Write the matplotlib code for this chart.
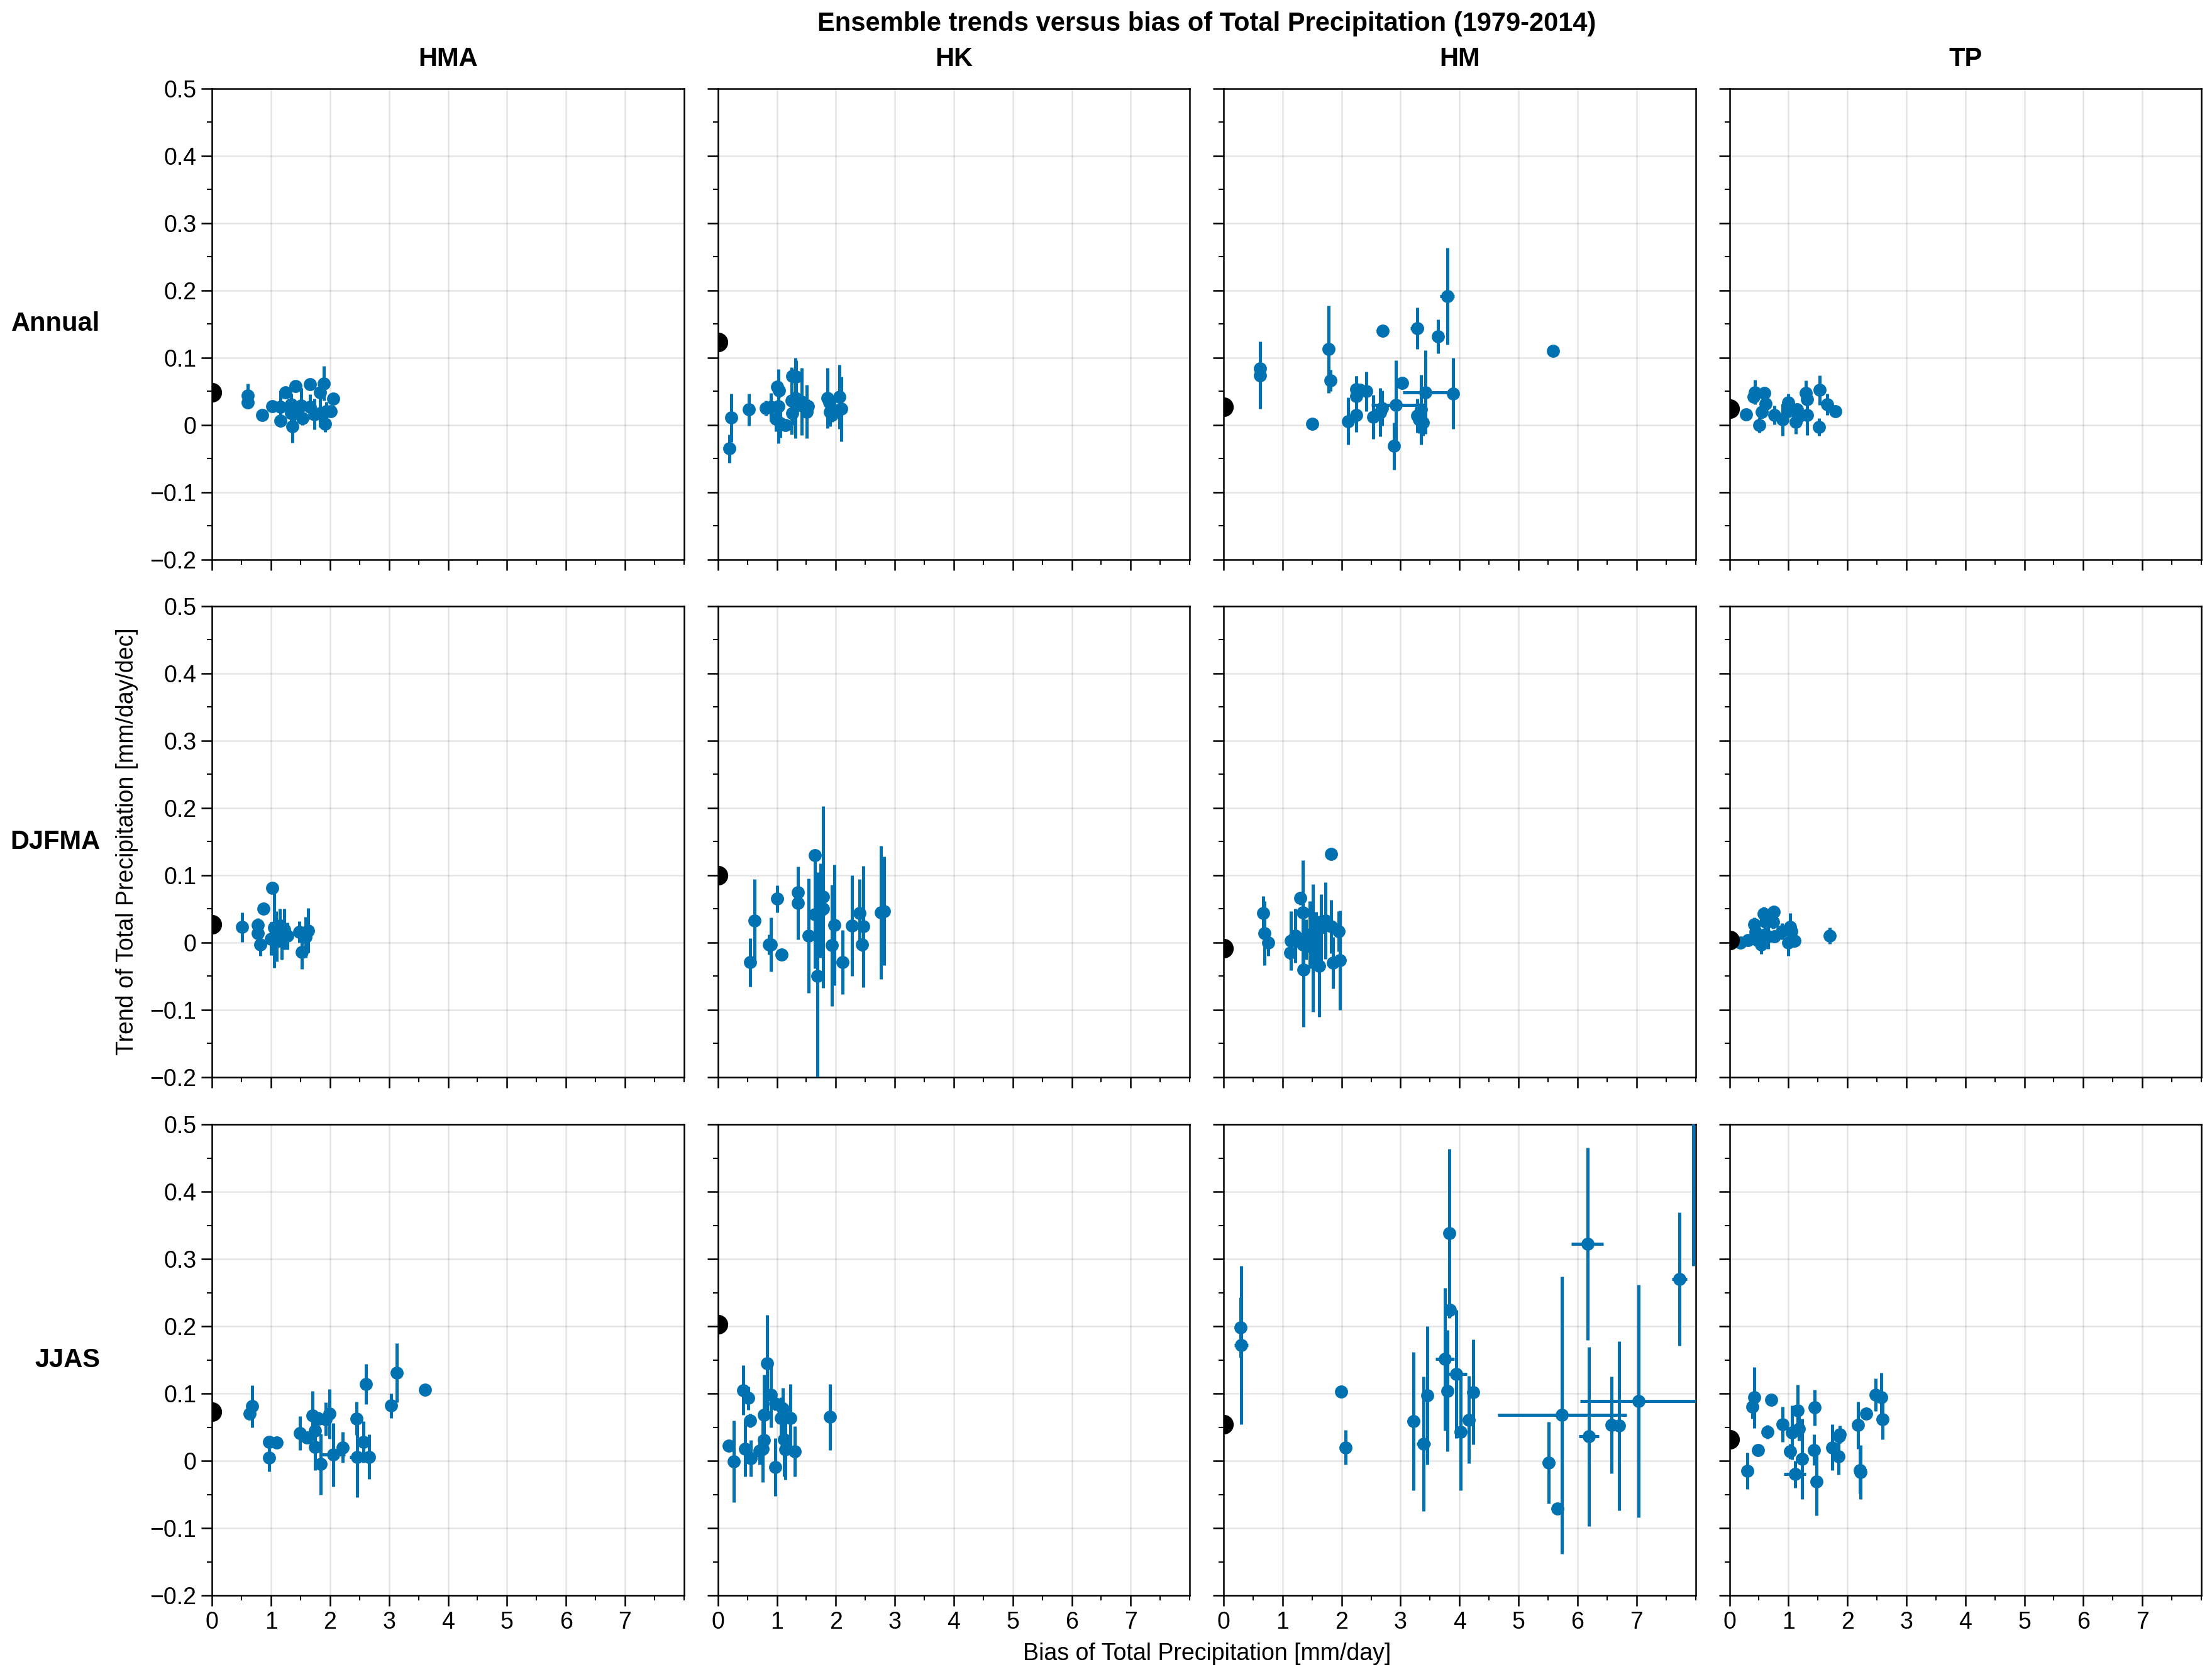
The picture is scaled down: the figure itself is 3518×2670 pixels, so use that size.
import matplotlib
matplotlib.use("Agg")
import matplotlib.pyplot as plt
from matplotlib.ticker import MultipleLocator, FixedLocator, FuncFormatter

plt.rcParams['font.family'] = ['Liberation Sans', 'DejaVu Sans']

# ---------------- DATA ----------------
regions = ["HMA", "HK", "HM", "TP"]
seasons = ["Annual", "DJFMA", "JJAS"]
x_ticks = [0, 1, 2, 3, 4, 5, 6, 7]
y_ticks = [-0.2, -0.1, 0.0, 0.1, 0.2, 0.3, 0.4, 0.5]

# observed trend (bias = 0) per season x region
obs_annual = [0.049, 0.123, 0.027, 0.024]
obs_djfma = [0.027, 0.100, -0.008, 0.004]
obs_jjas = [0.073, 0.203, 0.054, 0.032]

# ---- Annual ----
hma_ann_x = [0.60, 0.60, 0.85, 1.02, 1.24, 1.41, 1.16, 1.16, 1.34, 1.34, 1.39, 1.36, 1.51, 1.53, 1.66, 1.66, 1.73, 1.89, 1.83, 1.83, 1.92, 1.94, 2.01, 2.05]
hma_ann_y = [0.044, 0.034, 0.015, 0.028, 0.049, 0.058, 0.027, 0.007, 0.031, 0.018, 0.018, -0.002, 0.029, 0.010, 0.061, 0.027, 0.016, 0.062, 0.049, 0.018, 0.002, 0.021, 0.021, 0.039]
hma_ann_yerr = [0.018, 0.010, 0.004, 0.004, 0.004, 0.004, 0.024, 0.010, 0.016, 0.012, 0.012, 0.024, 0.026, 0.010, 0.004, 0.019, 0.023, 0.026, 0.012, 0.021, 0.012, 0.014, 0.006, 0.004]
hma_ann_xerr = [0.02] * 24

hk_ann_x = [0.19, 0.23, 0.53, 0.81, 0.90, 1.00, 1.04, 1.03, 0.98, 1.06, 1.14, 1.26, 1.33, 1.31, 1.25, 1.26, 1.42, 1.51, 1.53, 1.42, 1.86, 1.89, 1.90, 1.94, 2.06, 2.09, 1.93]
hk_ann_y = [-0.035, 0.011, 0.023, 0.025, 0.027, 0.057, 0.051, 0.028, 0.009, 0.003, 0.000, 0.073, 0.072, 0.040, 0.036, 0.018, 0.035, 0.020, 0.028, 0.029, 0.040, 0.034, 0.020, 0.023, 0.042, 0.024, 0.015]
hk_ann_yerr = [0.021, 0.036, 0.024, 0.011, 0.021, 0.008, 0.010, 0.055, 0.018, 0.022, 0.005, 0.010, 0.024, 0.060, 0.050, 0.018, 0.050, 0.040, 0.010, 0.010, 0.045, 0.010, 0.022, 0.010, 0.048, 0.048, 0.010]
hk_ann_xerr = [0.02] * 27

hm_ann_x = [0.62, 0.62, 1.50, 1.78, 1.81, 2.11, 2.25, 2.31, 2.25, 2.25, 2.42, 2.70, 2.54, 2.65, 2.69, 2.89, 2.92, 3.03, 3.28, 3.28, 3.35, 3.42, 3.89, 3.63, 3.79, 5.59, 3.32, 3.38]
hm_ann_y = [0.084, 0.074, 0.002, 0.113, 0.066, 0.006, 0.053, 0.052, 0.043, 0.015, 0.050, 0.140, 0.012, 0.019, 0.025, -0.031, 0.030, 0.063, 0.144, 0.014, 0.023, 0.049, 0.047, 0.132, 0.192, 0.110, 0.008, 0.004]
hm_ann_yerr = [0.010, 0.050, 0.004, 0.065, 0.016, 0.035, 0.020, 0.010, 0.030, 0.025, 0.029, 0.004, 0.033, 0.036, 0.026, 0.035, 0.066, 0.004, 0.031, 0.025, 0.052, 0.062, 0.053, 0.025, 0.072, 0.004, 0.020, 0.020]
hm_ann_xerr = [0.03, 0.03, 0.02, 0.03, 0.03, 0.03, 0.03, 0.03, 0.03, 0.03, 0.03, 0.02, 0.03, 0.03, 0.03, 0.03, 0.42, 0.03, 0.11, 0.03, 0.03, 0.38, 0.05, 0.05, 0.12, 0.02, 0.05, 0.05]

tp_ann_x = [0.28, 0.43, 0.41, 0.59, 0.61, 0.55, 0.51, 0.76, 0.90, 1.00, 0.99, 1.15, 1.12, 1.30, 1.32, 1.32, 1.52, 1.53, 1.66, 1.80, 1.17]
tp_ann_y = [0.016, 0.049, 0.042, 0.048, 0.032, 0.020, 0.000, 0.015, 0.008, 0.034, 0.021, 0.023, 0.005, 0.048, 0.038, 0.015, -0.003, 0.052, 0.031, 0.021, 0.012]
tp_ann_yerr = [0.004, 0.018, 0.008, 0.004, 0.008, 0.010, 0.011, 0.014, 0.024, 0.013, 0.008, 0.010, 0.018, 0.018, 0.010, 0.030, 0.013, 0.022, 0.016, 0.004, 0.010]
tp_ann_xerr = [0.02] * 21

# ---- DJFMA ----
hma_djf_x = [0.51, 0.77, 0.77, 0.82, 0.87, 1.02, 1.05, 1.08, 1.15, 1.22, 1.28, 1.10, 1.00, 1.18, 1.52, 1.48, 1.63, 1.58]
hma_djf_y = [0.023, 0.026, 0.014, -0.003, 0.050, 0.081, 0.022, 0.012, 0.025, 0.020, 0.010, 0.002, 0.006, 0.005, -0.014, 0.016, 0.018, 0.008]
hma_djf_yerr = [0.022, 0.010, 0.008, 0.017, 0.004, 0.005, 0.059, 0.035, 0.025, 0.030, 0.020, 0.030, 0.025, 0.030, 0.025, 0.016, 0.033, 0.030]
hma_djf_xerr = [0.02] * 18

hk_djf_x = [0.55, 0.62, 0.90, 0.87, 1.08, 1.01, 1.36, 1.36, 1.54, 1.65, 1.65, 1.69, 1.78, 1.78, 1.74, 1.97, 1.93, 2.11, 2.27, 2.40, 2.47, 2.44, 2.76, 2.82]
hk_djf_y = [-0.029, 0.033, -0.003, -0.003, -0.018, 0.065, 0.075, 0.059, 0.010, 0.130, 0.042, -0.050, 0.068, 0.050, 0.048, 0.026, -0.004, -0.029, 0.025, 0.044, 0.024, -0.003, 0.045, 0.047]
hk_djf_yerr = [0.036, 0.061, 0.040, 0.015, 0.004, 0.020, 0.010, 0.054, 0.085, 0.004, 0.080, 0.155, 0.135, 0.070, 0.070, 0.090, 0.090, 0.048, 0.075, 0.050, 0.090, 0.010, 0.099, 0.081]
hk_djf_xerr = [0.02, 0.02, 0.02, 0.02, 0.02, 0.10, 0.02, 0.02, 0.02, 0.02, 0.02, 0.02, 0.02, 0.02, 0.02, 0.02, 0.02, 0.02, 0.02, 0.02, 0.02, 0.02, 0.02, 0.02]

hm_djf_x = [0.67, 0.69, 0.76, 1.82, 1.30, 1.34, 1.14, 1.13, 1.21, 1.34, 1.35, 1.46, 1.51, 1.57, 1.62, 1.65, 1.73, 1.82, 1.85, 1.95, 1.97, 1.40]
hm_djf_y = [0.044, 0.014, 0.000, 0.132, 0.066, 0.045, 0.003, -0.015, 0.010, -0.003, -0.040, 0.012, -0.008, 0.006, -0.035, 0.022, 0.033, 0.024, -0.030, 0.017, -0.026, 0.005]
hm_djf_yerr = [0.025, 0.048, 0.020, 0.004, 0.010, 0.077, 0.044, 0.010, 0.040, 0.040, 0.085, 0.050, 0.095, 0.040, 0.075, 0.050, 0.057, 0.040, 0.038, 0.030, 0.074, 0.030]
hm_djf_xerr = [0.02] * 22

tp_djf_x = [0.19, 0.31, 0.42, 0.44, 0.47, 0.54, 0.58, 0.61, 0.75, 0.74, 0.66, 0.76, 0.89, 1.03, 1.05, 1.00, 1.10, 1.70, 0.60]
tp_djf_y = [0.000, 0.004, 0.027, 0.016, 0.004, -0.003, 0.043, 0.031, 0.046, 0.031, 0.009, 0.009, 0.017, 0.023, 0.017, 0.000, 0.003, 0.010, 0.012]
tp_djf_yerr = [0.003, 0.008, 0.010, 0.010, 0.006, 0.014, 0.010, 0.010, 0.009, 0.010, 0.018, 0.008, 0.012, 0.021, 0.010, 0.020, 0.010, 0.012, 0.020]
tp_djf_xerr = [0.02] * 19

# ---- JJAS ----
hma_jja_x = [0.68, 0.64, 0.97, 1.09, 0.97, 1.49, 1.61, 1.70, 1.81, 1.75, 1.75, 1.84, 1.93, 1.99, 2.05, 2.21, 2.45, 2.46, 2.57, 2.66, 2.61, 3.04, 3.13, 3.61]
hma_jja_y = [0.081, 0.070, 0.028, 0.027, 0.005, 0.041, 0.035, 0.067, 0.063, 0.045, 0.021, -0.005, 0.062, 0.070, 0.009, 0.020, 0.063, 0.006, 0.028, 0.006, 0.114, 0.082, 0.131, 0.106]
hma_jja_yerr = [0.031, 0.008, 0.005, 0.004, 0.021, 0.025, 0.005, 0.037, 0.010, 0.010, 0.035, 0.045, 0.025, 0.037, 0.047, 0.023, 0.025, 0.060, 0.031, 0.033, 0.030, 0.018, 0.044, 0.004]
hma_jja_xerr = [0.02, 0.02, 0.02, 0.02, 0.02, 0.02, 0.02, 0.02, 0.02, 0.02, 0.02, 0.02, 0.02, 0.02, 0.21, 0.02, 0.02, 0.13, 0.02, 0.02, 0.02, 0.02, 0.02, 0.02]

hk_jja_x = [0.18, 0.27, 0.43, 0.52, 0.55, 0.46, 0.56, 0.83, 0.78, 0.78, 0.71, 0.76, 0.90, 0.97, 0.97, 1.07, 1.10, 1.12, 1.14, 1.23, 1.30, 1.90]
hk_jja_y = [0.022, -0.001, 0.105, 0.093, 0.060, 0.018, 0.004, 0.145, 0.068, 0.031, 0.015, 0.018, 0.098, 0.085, -0.009, 0.064, 0.078, 0.032, 0.017, 0.064, 0.014, 0.065]
hk_jja_yerr = [0.004, 0.061, 0.037, 0.017, 0.010, 0.041, 0.027, 0.072, 0.060, 0.020, 0.021, 0.050, 0.048, 0.010, 0.043, 0.030, 0.030, 0.055, 0.045, 0.050, 0.037, 0.049]
hk_jja_xerr = [0.02] * 22

hm_jja_x = [0.29, 0.30, 1.99, 2.07, 3.22, 3.39, 3.45, 3.83, 3.84, 3.75, 3.79, 3.94, 4.02, 4.16, 4.23, 5.51, 5.66, 5.74, 6.17, 6.19, 6.58, 6.70, 7.04, 7.73, 7.96]
hm_jja_y = [0.198, 0.172, 0.103, 0.020, 0.059, 0.025, 0.097, 0.338, 0.224, 0.151, 0.104, 0.129, 0.043, 0.061, 0.102, -0.003, -0.071, 0.068, 0.322, 0.036, 0.053, 0.052, 0.089, 0.270, 0.620]
hm_jja_yerr = [0.045, 0.118, 0.004, 0.026, 0.103, 0.100, 0.103, 0.126, 0.010, 0.106, 0.090, 0.095, 0.087, 0.065, 0.078, 0.061, 0.004, 0.206, 0.143, 0.133, 0.072, 0.126, 0.173, 0.099, 0.330]
hm_jja_xerr = [0.03, 0.12, 0.02, 0.03, 0.11, 0.12, 0.03, 0.03, 0.05, 0.16, 0.05, 0.18, 0.03, 0.05, 0.05, 0.11, 0.02, 1.09, 0.27, 0.17, 0.05, 0.05, 1.00, 0.13, 0.03]

tp_jja_x = [0.30, 0.42, 0.39, 0.49, 0.64, 0.71, 0.90, 1.06, 1.03, 1.11, 1.16, 1.18, 1.23, 1.44, 1.43, 1.48, 1.74, 1.87, 1.86, 1.85, 2.18, 2.32, 2.21, 2.22, 2.48, 2.57, 2.60]
tp_jja_y = [-0.015, 0.094, 0.080, 0.016, 0.043, 0.091, 0.054, 0.042, 0.014, -0.020, 0.075, 0.048, 0.003, 0.079, 0.016, -0.031, 0.020, 0.039, 0.036, 0.007, 0.053, 0.070, -0.014, -0.017, 0.098, 0.094, 0.062]
tp_jja_yerr = [0.027, 0.045, 0.017, 0.004, 0.010, 0.004, 0.026, 0.040, 0.011, 0.020, 0.038, 0.018, 0.060, 0.027, 0.023, 0.050, 0.034, 0.013, 0.010, 0.028, 0.035, 0.004, 0.035, 0.040, 0.024, 0.037, 0.030]
tp_jja_xerr = [0.02, 0.02, 0.02, 0.02, 0.02, 0.02, 0.02, 0.02, 0.02, 0.19, 0.02, 0.02, 0.02, 0.02, 0.02, 0.02, 0.02, 0.02, 0.02, 0.02, 0.02, 0.02, 0.02, 0.02, 0.02, 0.02, 0.02]

panels = [
    [(hma_ann_x, hma_ann_y, hma_ann_yerr, hma_ann_xerr),
     (hk_ann_x, hk_ann_y, hk_ann_yerr, hk_ann_xerr),
     (hm_ann_x, hm_ann_y, hm_ann_yerr, hm_ann_xerr),
     (tp_ann_x, tp_ann_y, tp_ann_yerr, tp_ann_xerr)],
    [(hma_djf_x, hma_djf_y, hma_djf_yerr, hma_djf_xerr),
     (hk_djf_x, hk_djf_y, hk_djf_yerr, hk_djf_xerr),
     (hm_djf_x, hm_djf_y, hm_djf_yerr, hm_djf_xerr),
     (tp_djf_x, tp_djf_y, tp_djf_yerr, tp_djf_xerr)],
    [(hma_jja_x, hma_jja_y, hma_jja_yerr, hma_jja_xerr),
     (hk_jja_x, hk_jja_y, hk_jja_yerr, hk_jja_xerr),
     (hm_jja_x, hm_jja_y, hm_jja_yerr, hm_jja_xerr),
     (tp_jja_x, tp_jja_y, tp_jja_yerr, tp_jja_xerr)],
]
obs = [obs_annual, obs_djfma, obs_jjas]

# ---------------- FIGURE ----------------
W, H = 3518, 2670
fig = plt.figure(figsize=(W / 300, H / 300), dpi=300)

col_left = [337.3, 1141.7, 1946.0, 2750.5]
ax_w = 750.5
row_top = [141, 964, 1788]
ax_h = 749
blue = '#0072B2'
FS = 9


def yfmt(v, pos):
    if abs(v) < 1e-9:
        return '0'
    return ('%.1f' % v).replace('-', '\u2212')


for r in range(3):
    for c in range(4):
        ax = fig.add_axes([col_left[c] / W, 1 - (row_top[r] + ax_h) / H, ax_w / W, ax_h / H])
        xs, ys, yerr, xerr = panels[r][c]
        ax.errorbar(xs, ys, yerr=yerr, xerr=xerr, fmt='o', color=blue, ms=4.0,
                    elinewidth=1.2, capsize=0, zorder=3)
        ax.plot([0], [obs[r][c]], 'o', color='black', ms=6.5, zorder=4)
        ax.set_xlim(0, 8)
        ax.set_ylim(-0.2, 0.5)
        ax.xaxis.set_major_locator(FixedLocator(x_ticks))
        ax.xaxis.set_minor_locator(MultipleLocator(0.5))
        ax.yaxis.set_major_locator(FixedLocator(y_ticks))
        ax.yaxis.set_minor_locator(MultipleLocator(0.05))
        ax.yaxis.set_major_formatter(FuncFormatter(yfmt))
        ax.grid(True, which='major', color='black', alpha=0.1, lw=0.6)
        ax.set_axisbelow(True)
        ax.tick_params(which='major', length=4, width=0.6, labelsize=FS, pad=2)
        ax.tick_params(which='minor', length=2, width=0.5)
        for sp in ax.spines.values():
            sp.set_linewidth(0.6)
        if c != 0:
            ax.tick_params(labelleft=False)
        if r != 2:
            ax.tick_params(labelbottom=False)

cx_all = (col_left[0] + col_left[3] + ax_w) / 2 / W
fig.text(cx_all, 1 - 38 / H, "Ensemble trends versus bias of Total Precipitation (1979-2014)",
         ha='center', va='center', fontsize=10, fontweight='bold')
for c, name in enumerate(regions):
    fig.text((col_left[c] + ax_w / 2) / W, 1 - 94 / H, name, ha='center', va='center',
             fontsize=10, fontweight='bold')
for r, name in enumerate(seasons):
    fig.text(159 / W, 1 - (row_top[r] + ax_h / 2) / H, name, ha='right', va='center',
             fontsize=10, fontweight='bold')
fig.text(202 / W, 1 - (row_top[1] + ax_h / 2) / H, "Trend of Total Precipitation [mm/day/dec]",
         rotation=90, ha='center', va='center', fontsize=FS)
fig.text(cx_all, 1 - 2630 / H, "Bias of Total Precipitation [mm/day]", ha='center', va='center',
         fontsize=FS)

fig.savefig('out.png', dpi=300)
